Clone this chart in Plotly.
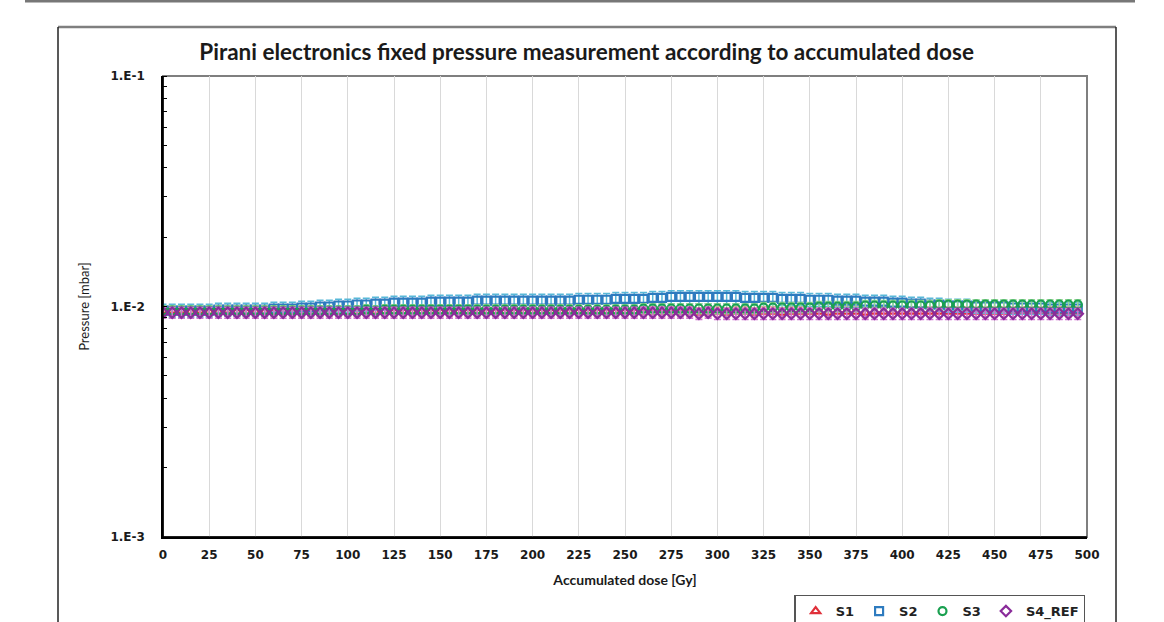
import plotly.graph_objects as go

dose = list(range(0, 500, 5))

s1 = [0.0096, 0.0096, 0.0096, 0.0095, 0.0096, 0.0095, 0.0095, 0.0096, 0.0095, 0.0095,
      0.0095, 0.0095, 0.0095, 0.0096, 0.0095, 0.0095, 0.0095, 0.0095, 0.0095, 0.0095,
      0.0095, 0.0095, 0.0095, 0.0095, 0.0095, 0.0095, 0.0095, 0.0095, 0.0095, 0.0095,
      0.0095, 0.0095, 0.0095, 0.0095, 0.0095, 0.0095, 0.0095, 0.0095, 0.0095, 0.0095,
      0.0095, 0.0095, 0.0095, 0.0095, 0.0095, 0.0095, 0.0095, 0.0095, 0.0095, 0.0095,
      0.0095, 0.0095, 0.0095, 0.0095, 0.0095, 0.0095, 0.0095, 0.0095, 0.0094, 0.0095,
      0.0095, 0.0094, 0.0095, 0.0095, 0.0094, 0.0095, 0.0095, 0.0094, 0.0095, 0.0095,
      0.0095, 0.0095, 0.0094, 0.0095, 0.0095, 0.0095, 0.0094, 0.0095, 0.0095, 0.0095,
      0.0095, 0.0095, 0.0095, 0.0095, 0.0095, 0.0095, 0.0095, 0.0095, 0.0095, 0.0095,
      0.0095, 0.0095, 0.0095, 0.0095, 0.0095, 0.0095, 0.0095, 0.0095, 0.0095, 0.0095]

s2 = [0.0096, 0.0096, 0.0096, 0.0096, 0.0096, 0.0096, 0.0097, 0.0097, 0.0097, 0.0097,
      0.0097, 0.0097, 0.0098, 0.0098, 0.0098, 0.0099, 0.0099, 0.0100, 0.0100, 0.0101,
      0.0101, 0.0102, 0.0102, 0.0103, 0.0103, 0.0104, 0.0104, 0.0104, 0.0104, 0.0105,
      0.0105, 0.0105, 0.0105, 0.0105, 0.0106, 0.0106, 0.0106, 0.0106, 0.0106, 0.0106,
      0.0106, 0.0106, 0.0106, 0.0106, 0.0106, 0.0107, 0.0107, 0.0107, 0.0107, 0.0108,
      0.0108, 0.0108, 0.0108, 0.0109, 0.0109, 0.0110, 0.0110, 0.0110, 0.0110, 0.0110,
      0.0110, 0.0110, 0.0110, 0.0109, 0.0109, 0.0109, 0.0109, 0.0108, 0.0108, 0.0108,
      0.0107, 0.0107, 0.0107, 0.0106, 0.0106, 0.0106, 0.0105, 0.0105, 0.0105, 0.0104,
      0.0104, 0.0103, 0.0103, 0.0102, 0.0102, 0.0101, 0.0101, 0.0101, 0.0100, 0.0100,
      0.0100, 0.0100, 0.0099, 0.0099, 0.0099, 0.0099, 0.0098, 0.0098, 0.0098, 0.0098]

s3 = [0.0096, 0.0096, 0.0096, 0.0096, 0.0096, 0.0096, 0.0096, 0.0096, 0.0096, 0.0096,
      0.0096, 0.0096, 0.0096, 0.0096, 0.0096, 0.0096, 0.0096, 0.0096, 0.0096, 0.0096,
      0.0096, 0.0096, 0.0097, 0.0096, 0.0097, 0.0097, 0.0097, 0.0097, 0.0097, 0.0097,
      0.0097, 0.0097, 0.0097, 0.0097, 0.0097, 0.0097, 0.0097, 0.0097, 0.0097, 0.0097,
      0.0097, 0.0097, 0.0097, 0.0097, 0.0097, 0.0097, 0.0097, 0.0097, 0.0097, 0.0097,
      0.0097, 0.0097, 0.0098, 0.0098, 0.0098, 0.0098, 0.0098, 0.0098, 0.0098, 0.0098,
      0.0098, 0.0098, 0.0098, 0.0098, 0.0098, 0.0099, 0.0099, 0.0099, 0.0099, 0.0099,
      0.0099, 0.0100, 0.0100, 0.0100, 0.0100, 0.0100, 0.0101, 0.0101, 0.0101, 0.0101,
      0.0101, 0.0101, 0.0101, 0.0101, 0.0102, 0.0102, 0.0102, 0.0102, 0.0102, 0.0102,
      0.0102, 0.0102, 0.0102, 0.0102, 0.0102, 0.0102, 0.0102, 0.0102, 0.0102, 0.0102]

s4 = [0.0094, 0.0094, 0.0094, 0.0094, 0.0094, 0.0094, 0.0094, 0.0094, 0.0094, 0.0094,
      0.0094, 0.0094, 0.0094, 0.0094, 0.0094, 0.0094, 0.0094, 0.0094, 0.0094, 0.0094,
      0.0094, 0.0094, 0.0094, 0.0094, 0.0094, 0.0094, 0.0094, 0.0094, 0.0094, 0.0094,
      0.0094, 0.0094, 0.0094, 0.0094, 0.0094, 0.0094, 0.0094, 0.0094, 0.0094, 0.0094,
      0.0094, 0.0094, 0.0094, 0.0094, 0.0094, 0.0094, 0.0094, 0.0094, 0.0094, 0.0094,
      0.0094, 0.0094, 0.0094, 0.0094, 0.0094, 0.0094, 0.0094, 0.0094, 0.0093, 0.0094,
      0.0093, 0.0093, 0.0093, 0.0093, 0.0093, 0.0093, 0.0093, 0.0093, 0.0093, 0.0093,
      0.0093, 0.0093, 0.0093, 0.0093, 0.0093, 0.0093, 0.0093, 0.0093, 0.0093, 0.0093,
      0.0093, 0.0093, 0.0093, 0.0093, 0.0093, 0.0093, 0.0093, 0.0093, 0.0093, 0.0093,
      0.0093, 0.0093, 0.0093, 0.0093, 0.0093, 0.0093, 0.0093, 0.0093, 0.0093, 0.0093]

err_pct = {"S1": 5, "S2": 6.5, "S3": 5, "S4_REF": 5.5}

x_ticks = list(range(0, 501, 25))
y_tickvals = [0.001, 0.01, 0.1]
y_ticktext = ["1.E-3", "1.E-2", "1.E-1"]

series = [
    ("S1", s1, "triangle-up-open", "#e0303a", "#f0a0a8"),
    ("S2", s2, "square-open", "#2e7bbf", "#58b8d8"),
    ("S3", s3, "circle-open", "#1aa050", "#98d898"),
    ("S4_REF", s4, "diamond-open", "#8a2c9a", "#d070d0"),
]

fig = go.Figure()
for name, vals, sym, col, ecol in series:
    fig.add_trace(go.Scatter(
        x=dose, y=vals, mode="markers", name=name,
        marker=dict(symbol=sym, size=8, color=col, line=dict(width=2.2, color=col)),
        error_y=dict(type="percent", value=err_pct[name], color=ecol, thickness=1.5, width=3.5),
    ))

FONT_T = "DejaVu Sans"

fig.update_layout(
    width=1164, height=622, autosize=False,
    paper_bgcolor="white", plot_bgcolor="white",
    margin=dict(l=163, r=77, t=76, b=85, autoexpand=False),
    title=dict(text="<b>Pirani electronics fixed pressure measurement according to accumulated dose</b>",
               x=0.504, xanchor="center", y=1 - 52 / 622, yanchor="middle",
               font=dict(family="Lato", size=22.5, color="#1a1a1a")),
    showlegend=True,
    legend=dict(orientation="h", x=0.998, xanchor="right", y=-0.125, yanchor="top",
                bordercolor="#555555", borderwidth=1.5, bgcolor="white",
                font=dict(family=FONT_T, size=13, color="#222222", weight="bold"),
                itemwidth=30, tracegroupgap=0),
    xaxis=dict(range=[0, 500], tickvals=x_ticks, showgrid=True, gridcolor="#d9d9d9", gridwidth=1,
               showline=True, linecolor="black", linewidth=1.5, ticks="", zeroline=False,
               ticklabelstandoff=6, automargin=False,
               tickfont=dict(family=FONT_T, size=12, color="#1a1a1a", weight="bold"),
               title=dict(text="<b>Accumulated dose [Gy]</b>", standoff=14,
                          font=dict(family="Lato", size=14, color="#1a1a1a"))),
    yaxis=dict(type="log", range=[-3, -1], tickvals=y_tickvals, ticktext=y_ticktext,
               showgrid=False, showline=True, linecolor="black", linewidth=1.5, zeroline=False,
               ticks="", ticklabelstandoff=14, automargin=False,
               minor=dict(ticks="inside", ticklen=4, tickcolor="black", dtick="D1", showgrid=False),
               tickfont=dict(family=FONT_T, size=12, color="#1a1a1a", weight="bold"),
               title=dict(text="Pressure [mbar]", standoff=18,
                          font=dict(family="Lato", size=13, color="#1a1a1a"))),
    shapes=[
        dict(type="rect", xref="paper", yref="paper", x0=0, x1=1, y0=0, y1=1,
             line=dict(color="#7f7f7f", width=2), fillcolor="rgba(0,0,0,0)", layer="below"),
        dict(type="line", xref="paper", yref="paper", x0=0, x1=0, y0=0, y1=1,
             line=dict(color="black", width=1.5)),
        dict(type="line", xref="paper", yref="paper", x0=0, x1=1, y0=0, y1=0,
             line=dict(color="black", width=1.5)),
        dict(type="line", xref="paper", yref="paper", x0=(58 - 163) / 924, x1=(1116 - 163) / 924,
             y0=(537 - 27) / 461, y1=(537 - 27) / 461, line=dict(color="#7f7f7f", width=2.5)),
        dict(type="line", xref="paper", yref="paper", x0=(58 - 163) / 924, x1=(58 - 163) / 924,
             y0=(537 - 27) / 461, y1=(537 - 640) / 461, line=dict(color="#222222", width=1.5)),
        dict(type="line", xref="paper", yref="paper", x0=(1116 - 163) / 924, x1=(1116 - 163) / 924,
             y0=(537 - 27) / 461, y1=(537 - 640) / 461, line=dict(color="#222222", width=1.5)),
        dict(type="line", xref="paper", yref="paper", x0=(25 - 163) / 924, x1=(1135 - 163) / 924,
             y0=(537 - 1) / 461, y1=(537 - 1) / 461, line=dict(color="#777777", width=3)),
    ],
)

fig.write_html("out.html", config={"displayModeBar": False},
               post_script="document.body.style.margin='0';document.body.style.overflow='hidden';")
